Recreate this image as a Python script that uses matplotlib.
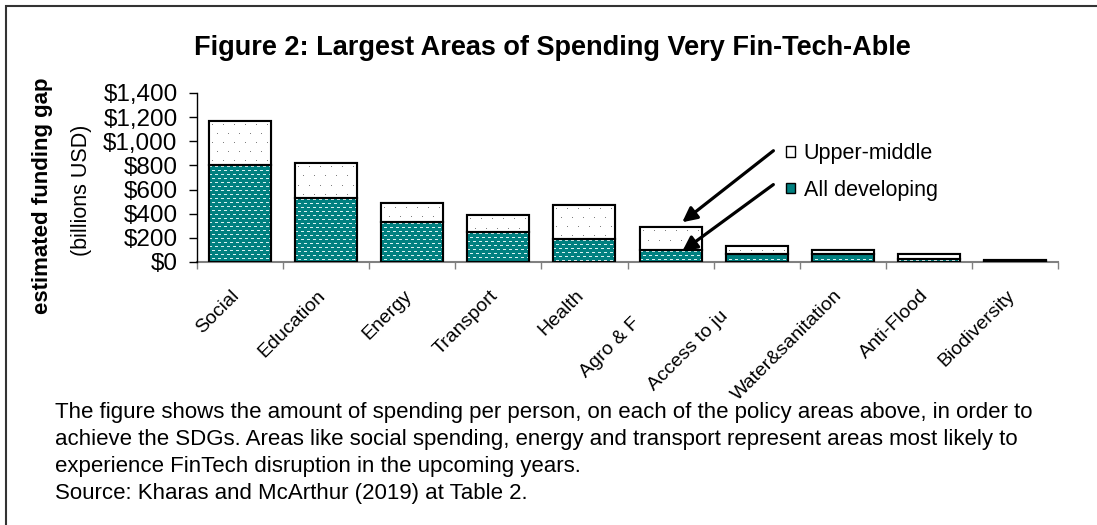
import numpy as np
import matplotlib.pyplot as plt
import matplotlib.patches as patches
import matplotlib.transforms as mtrans
from matplotlib.ticker import FuncFormatter

plt.rcParams['font.family'] = ['Liberation Sans', 'DejaVu Sans']

categories = ['Social', 'Education', 'Energy', 'Transport', 'Health', 'Agro & F',
              'Access to ju', 'Water&sanitation', 'Anti-Flood', 'Biodiversity']
all_developing = [800, 528, 329, 246, 188, 97, 70, 68, 28, 8]
upper_middle = [370, 290, 157, 141, 287, 191, 63, 35, 36, 8]
y_ticks = [0, 200, 400, 600, 800, 1000, 1200, 1400]
# labels cut off at the end in the original sit lower along their slant (px)
truncated = {'Agro & F': (30, 28), 'Access to ju': (28, 20)}

teal = np.array([0, 128, 128]) / 255.0


def texture(h, w, kind):
    # pixel pattern used to fill a bar segment
    if kind == 'dash':
        img = np.tile(teal, (h, w, 1))
        for r in range(1, h, 4):
            off = 0 if (r // 4) % 2 == 0 else 3
            for c in range(off, w, 6):
                img[r, c:c + 3] = [0.85, 0.95, 0.95]
    else:
        img = np.ones((h, w, 3))
        for r in range(4, h, 9):
            off = 3 if (r // 9) % 2 == 0 else 8
            for c in range(off, w, 11):
                img[r, c] = [0.5, 0.5, 0.5]
    return img


def fill_bars(ax, bars, kind):
    for b in bars:
        x0, y0 = b.get_x(), b.get_y()
        x1, y1 = x0 + b.get_width(), y0 + b.get_height()
        p0 = ax.transData.transform((x0, y0))
        p1 = ax.transData.transform((x1, y1))
        w = max(int(round(p1[0] - p0[0])), 1)
        h = max(int(round(p1[1] - p0[1])), 1)
        im = ax.imshow(texture(h, w, kind), extent=(x0, x1, y0, y1), aspect='auto',
                       interpolation='nearest', zorder=1.5)
        im.set_clip_path(b)


fig = plt.figure(figsize=(10.97, 5.25), dpi=100)
ax = fig.add_axes([197/1097, 1 - 262/525, (1058 - 197)/1097, (262 - 93)/525])

x = np.arange(len(categories))
w = 0.72

ax.set_xlim(-0.5, len(categories) - 0.5)
ax.set_ylim(0, 1400)

lower = ax.bar(x, all_developing, w, color=teal, edgecolor='black', linewidth=1.5, zorder=1)
upper = ax.bar(x, upper_middle, w, bottom=all_developing, color='white', edgecolor='black',
               linewidth=1.5, zorder=1)
fill_bars(ax, lower, 'dash')
fill_bars(ax, upper, 'dot')
# outlines on top of the textures
ax.bar(x, all_developing, w, facecolor='none', edgecolor='black', linewidth=1.5, zorder=2)
ax.bar(x, upper_middle, w, bottom=all_developing, facecolor='none', edgecolor='black',
       linewidth=1.5, zorder=2)

ax.set_xlim(-0.5, len(categories) - 0.5)
ax.set_ylim(0, 1400)
ax.set_yticks(y_ticks)
ax.yaxis.set_major_formatter(FuncFormatter(lambda v, p: '${:,.0f}'.format(v)))
ax.tick_params(axis='y', labelsize=17.5, length=6, width=1, pad=8)

ax.set_xticks(x)
ax.set_xticklabels(categories, rotation=45, ha='right', va='top', rotation_mode='anchor',
                   fontsize=14)
ax.tick_params(axis='x', length=0, pad=18)
for lab in ax.get_xticklabels():
    dx, dy = truncated.get(lab.get_text(), (0, 0))
    shift = mtrans.ScaledTranslation((-9 - dx)/100, -dy/100, fig.dpi_scale_trans)
    lab.set_transform(lab.get_transform() + shift)
ax.set_xticks(np.arange(-0.5, len(categories)), minor=True)
ax.tick_params(axis='x', which='minor', length=5, color='#808080', width=1)

for s in ['top', 'right']:
    ax.spines[s].set_visible(False)
ax.spines['bottom'].set_color('#808080')
ax.spines['bottom'].set_linewidth(1.5)
ax.spines['bottom'].set_zorder(0.5)
ax.spines['left'].set_linewidth(1)

# y label: bold line and plain line
fig.text(43/1097, 1 - 196/525, 'estimated funding gap', rotation=90, ha='center',
         va='center', fontsize=16, fontweight='bold')
fig.text(81/1097, 1 - 190/525, '(billions USD)', rotation=90, ha='center', va='center',
         fontsize=15.5)

fig.text(552/1097, 1 - 55/525, 'Figure 2: Largest Areas of Spending Very Fin-Tech-Able',
         ha='center', va='baseline', fontsize=19.5, fontweight='bold')

# legend
leg_handles = [patches.Patch(facecolor='white', edgecolor='black', label='Upper-middle'),
               patches.Patch(facecolor=teal, edgecolor='black', label='All developing')]
ax.legend(handles=leg_handles, loc='upper left', bbox_to_anchor=(0.662, 0.818),
          frameon=False, fontsize=15.5, handlelength=0.38, handleheight=0.38,
          handletextpad=0.42, labelspacing=0.72)

# arrows pointing at the Agro bar
ax.annotate('', xy=(5.11, 315), xytext=(6.22, 936),
            arrowprops=dict(arrowstyle='-|>', color='black', lw=2.3, mutation_scale=22))
ax.annotate('', xy=(5.11, 75), xytext=(6.22, 655),
            arrowprops=dict(arrowstyle='-|>', color='black', lw=2.3, mutation_scale=22))

caption = ('The figure shows the amount of spending per person, on each of the policy areas above, in order to\n'
           'achieve the SDGs. Areas like social spending, energy and transport represent areas most likely to\n'
           'experience FinTech disruption in the upcoming years.\n'
           'Source: Kharas and McArthur (2019) at Table 2.')
fig.text(55/1097, 1 - 402/525, caption, ha='left', va='top', fontsize=16, linespacing=1.37)

# outer frame
fig.patches.append(patches.Rectangle((6/1097, -0.1), 1.2, 1.1 - 6/525, transform=fig.transFigure,
                                     fill=False, edgecolor='#333333', linewidth=1.5))

fig.savefig('out.png', dpi=100)
